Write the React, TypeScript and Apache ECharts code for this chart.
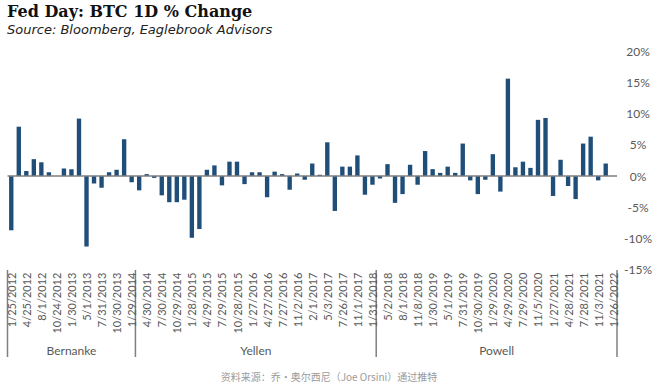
import React, { useEffect, useRef } from "react";
import * as echarts from "echarts";

const dates = [
  "1/25/2012", "3/13/2012", "4/25/2012", "6/20/2012", "8/1/2012", "9/13/2012", "10/24/2012", "12/12/2012",
  "1/30/2013", "3/20/2013", "5/1/2013", "6/19/2013", "7/31/2013", "9/18/2013", "10/30/2013", "12/18/2013",
  "1/29/2014", "3/19/2014", "4/30/2014", "6/18/2014", "7/30/2014", "9/17/2014", "10/29/2014", "12/17/2014",
  "1/28/2015", "3/18/2015", "4/29/2015", "6/17/2015", "7/29/2015", "9/17/2015", "10/28/2015", "12/16/2015",
  "1/27/2016", "3/16/2016", "4/27/2016", "6/15/2016", "7/27/2016", "9/21/2016", "11/2/2016", "12/14/2016",
  "2/1/2017", "3/15/2017", "5/3/2017", "6/14/2017", "7/26/2017", "9/20/2017", "11/1/2017", "12/13/2017",
  "1/31/2018", "3/21/2018", "5/2/2018", "6/13/2018", "8/1/2018", "9/26/2018", "11/8/2018", "12/19/2018",
  "1/30/2019", "3/20/2019", "5/1/2019", "6/19/2019", "7/31/2019", "9/18/2019", "10/30/2019", "12/11/2019",
  "1/29/2020", "3/15/2020", "4/29/2020", "6/10/2020", "7/29/2020", "9/16/2020", "11/5/2020", "12/16/2020",
  "1/27/2021", "3/17/2021", "4/28/2021", "6/16/2021", "7/28/2021", "9/22/2021", "11/3/2021", "12/15/2021",
  "1/26/2022",
];

const changes = [
  -8.7, 7.9, 0.8, 2.7, 2.2, 0.6, 0.0, 1.2,
  1.1, 9.2, -11.3, -1.2, -1.9, 0.6, 1.0, 5.9,
  -1.0, -2.3, 0.3, -0.3, -3.1, -4.2, -4.2, -3.8,
  -9.9, -8.5, 1.0, 1.7, -1.5, 2.3, 2.3, -1.3,
  0.6, 0.6, -3.4, 0.7, 0.3, -2.2, 0.4, -0.6,
  2.0, 0.2, 5.4, -5.6, 1.5, 1.5, 3.3, -3.0,
  -1.4, -0.4, 1.9, -4.3, -2.9, 1.8, -1.4, 4.0,
  1.1, 0.5, 1.5, 0.5, 5.2, -0.7, -2.9, -0.6,
  3.5, -2.5, 15.6, 1.4, 2.3, 1.3, 9.0, 9.3,
  -3.2, 2.6, -1.6, -3.7, 5.2, 6.3, -0.7, 2.0,
  0.0,
];

const chairs = ["Bernanke", "Yellen", "Powell"];
const chairCounts = [17, 32, 32];

const titleText = "Fed Day: BTC 1D % Change";
const subtitleText = "Source: Bloomberg, Eaglebrook Advisors";
const footText = "资料来源：乔·奥尔西尼（Joe Orsini）通过推特";

const yMin = -15;
const yMax = 20;
const yStep = 5;

export default function App() {
  const ref = useRef<HTMLDivElement>(null);

  useEffect(() => {
    if (!ref.current) return;
    const chart = echarts.init(ref.current, null, { renderer: "svg" });
    const gridTop = 51.2;
    const gridBottom = 383 - 269.6;
    chart.setOption({
      animation: false,
      backgroundColor: "#ffffff",
      grid: { left: 7.5, right: 38, top: gridTop, bottom: gridBottom, containLabel: false },
      xAxis: {
        type: "category",
        data: dates,
        position: "bottom",
        axisLine: { show: false },
        axisTick: { show: false },
        splitLine: { show: false },
        axisLabel: {
          interval: 1,
          rotate: 90,
          margin: 3,
          fontSize: 11,
          fontFamily: "Lato",
          color: "#595959",
        },
      },
      yAxis: {
        type: "value",
        position: "right",
        min: yMin,
        max: yMax,
        interval: yStep,
        axisLine: { show: false },
        axisTick: { show: false },
        splitLine: { show: false },
        axisLabel: {
          formatter: "{value}%",
          align: "center",
          margin: 21,
          fontSize: 12,
          fontFamily: "Lato",
          color: "#595959",
        },
      },
      series: [
        {
          type: "bar",
          data: changes,
          barWidth: "58%",
          itemStyle: { color: "#1F4E79" },
          markLine: {
            silent: true,
            symbol: ["none", "none"],
            label: { show: false },
            lineStyle: { color: "#7f7f7f", width: 1.5, type: "solid" },
            data: [{ yAxis: 0 }],
          },
        },
      ],
    });

    const px = (i: number) => chart.convertToPixel({ xAxisIndex: 0 }, i) as number;
    const band = px(1) - px(0);
    const bounds: number[] = [];
    let start = 0;
    bounds.push(px(0) - band / 2);
    chairCounts.forEach((c) => {
      start += c;
      bounds.push(px(start - 1) + band / 2);
    });

    const lineTop = 270;
    const lineBottom = 357;
    const graphics: any[] = [];
    bounds.forEach((bx) => {
      graphics.push({
        type: "line",
        shape: { x1: bx, y1: lineTop, x2: bx, y2: lineBottom },
        style: { stroke: "#7f7f7f", lineWidth: 1.5 },
        silent: true,
      });
    });
    chairs.forEach((name, k) => {
      graphics.push({
        type: "text",
        x: (bounds[k] + bounds[k + 1]) / 2,
        y: 350,
        style: {
          text: name,
          fill: "#595959",
          font: "12px Lato",
          align: "center",
          verticalAlign: "middle",
        },
        silent: true,
      });
    });
    graphics.push(
      {
        type: "text",
        x: 7,
        y: 11,
        style: {
          text: titleText,
          fill: "#111111",
          font: "bold 16px 'DejaVu Serif'",
          align: "left",
          verticalAlign: "middle",
        },
      },
      {
        type: "text",
        x: 7,
        y: 29.5,
        style: {
          text: subtitleText,
          fill: "#222222",
          font: "italic 13px 'DejaVu Sans'",
          align: "left",
          verticalAlign: "middle",
        },
      },
      {
        type: "text",
        x: 329,
        y: 376,
        style: {
          text: footText,
          fill: "#9a9a9a",
          font: "10px 'Noto Sans CJK SC'",
          align: "center",
          verticalAlign: "middle",
        },
      }
    );
    chart.setOption({ graphic: graphics });

    return () => {
      chart.dispose();
    };
  }, []);

  return (
    <div
      ref={ref}
      style={{ position: "absolute", left: 0, top: 0, width: 655, height: 383 }}
    />
  );
}
